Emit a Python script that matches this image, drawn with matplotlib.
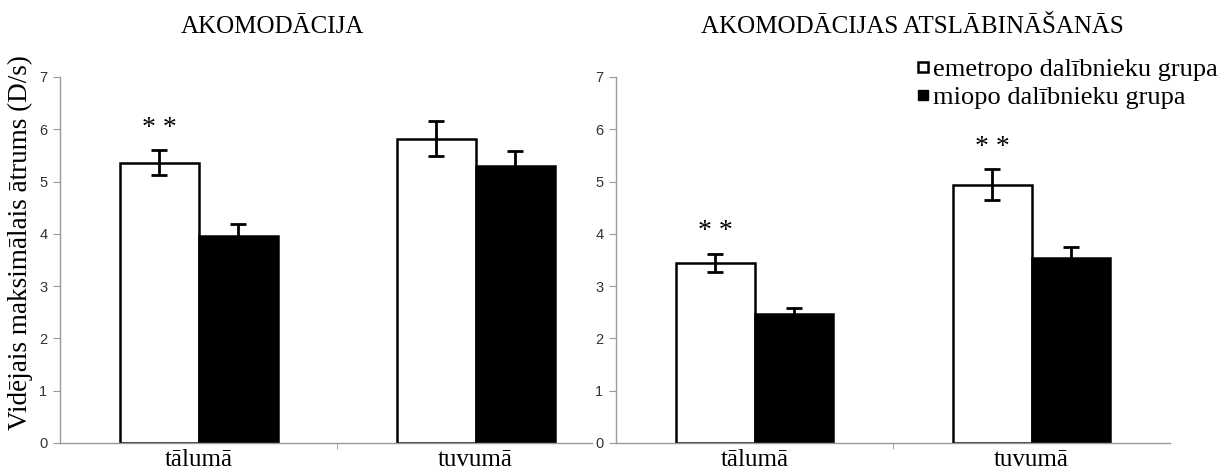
import numpy as np
import matplotlib
matplotlib.use("Agg")
import matplotlib.pyplot as plt
from matplotlib.lines import Line2D

# mean maximal speed (D/s) per viewing distance
categories = ["tālumā", "tuvumā"]
groups = ["emetropo dalībnieku grupa", "miopo dalībnieku grupa"]

acc_emm = [5.36, 5.82]
acc_emm_err = [0.24, 0.33]
acc_myo = [3.96, 5.30]
acc_myo_err = [0.23, 0.28]

rel_emm = [3.45, 4.94]
rel_emm_err = [0.17, 0.30]
rel_myo = [2.46, 3.53]
rel_myo_err = [0.12, 0.22]

# which emmetropic bars carry the "**" mark
signif_acc = [True, False]
signif_rel = [True, True]

serif = "Liberation Serif"
sans = "Liberation Sans"
axis_grey = "#9a9a9a"
W = 0.285

fig = plt.figure(figsize=(12.19, 4.71), dpi=100)
ax1 = fig.add_axes([60 / 1219, 28 / 471, 532 / 1219, 366 / 471])
ax2 = fig.add_axes([616 / 1219, 28 / 471, 554 / 1219, 366 / 471])


def draw(ax, emm, emm_err, myo, myo_err, signif, xmax):
    x = np.arange(len(categories))
    ekw = dict(elinewidth=2, capsize=5.5, capthick=2, ecolor="black")
    ax.bar(x - W / 2, emm, W, color="white", edgecolor="black", linewidth=1.8,
           yerr=emm_err, error_kw=ekw, zorder=2)
    ax.bar(x + W / 2, myo, W, color="black", edgecolor="black", linewidth=1.8,
           yerr=myo_err, error_kw=ekw, zorder=2)
    for xi, m, e, s in zip(x, emm, emm_err, signif):
        if s:
            ax.text(xi - W / 2, m + e + 0.42, "* *", family=serif, fontsize=20,
                    ha="center", va="center")
    ax.set_xlim(-0.5, xmax)
    ax.set_ylim(0, 7)
    ax.set_yticks(range(8))
    ax.set_xticks(x)
    ax.set_xticklabels(categories, family=serif, fontsize=18)
    ax.set_xticks([0.5], minor=True)
    ax.tick_params(axis="x", which="major", length=0, pad=4)
    ax.tick_params(axis="x", which="minor", length=4, color=axis_grey)
    ax.tick_params(axis="y", length=5, color=axis_grey, labelsize=10.5,
                   labelcolor="#333333", pad=4)
    for lab in ax.get_yticklabels():
        lab.set_family(sans)
    for side in ["top", "right"]:
        ax.spines[side].set_visible(False)
    for side in ["left", "bottom"]:
        ax.spines[side].set_color(axis_grey)
        ax.spines[side].set_linewidth(1)


draw(ax1, acc_emm, acc_emm_err, acc_myo, acc_myo_err, signif_acc, 1.42)
draw(ax2, rel_emm, rel_emm_err, rel_myo, rel_myo_err, signif_rel, 1.5)

fig.text(272 / 1219, 1 - 27 / 471, "AKOMODĀCIJA", family=serif, fontsize=18,
         ha="center", va="center")
fig.text(912 / 1219, 1 - 27 / 471, "AKOMODĀCIJAS ATSLĀBINĀŠANĀS", family=serif,
         fontsize=18, ha="center", va="center")
fig.text(20 / 1219, 1 - 243 / 471, "Vidējais maksimālais ātrums (D/s)",
         family=serif, fontsize=19.5, rotation=90, ha="center", va="center")

handles = [Line2D([], [], ls="none", marker="s", markersize=7.5,
                  markerfacecolor="white", markeredgecolor="black",
                  markeredgewidth=1.8),
           Line2D([], [], ls="none", marker="s", markersize=7.5,
                  markerfacecolor="black", markeredgecolor="black")]
leg = ax2.legend(handles, groups, loc="upper left",
                 bbox_to_anchor=(916 / 1219, 1 - 58 / 471),
                 bbox_transform=fig.transFigure, frameon=False,
                 prop={"family": serif, "size": 19}, handlelength=0.55,
                 handletextpad=0.1, labelspacing=0.15,
                 borderpad=0, borderaxespad=0)

fig.savefig("out.png", dpi=100)
